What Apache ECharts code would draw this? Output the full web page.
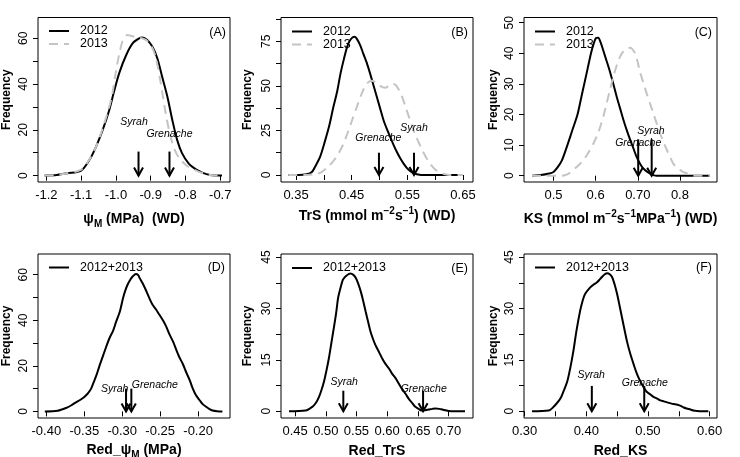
<!DOCTYPE html>
<html><head><meta charset="utf-8">
<script src="https://cdn.jsdelivr.net/npm/echarts@6/dist/echarts.min.js"></script>
<style>html,body{margin:0;padding:0;background:#fff}#c{width:740px;height:457px}</style>
</head><body><div id="c"></div>
<script>
// ---------------- DATA ----------------
// Panel A: psi_M (MPa) (WD)
const aX2012 = [-1.205,-1.17,-1.14,-1.1,-1.076,-1.057,-1.038,-1.019,-1.005,-0.99,-0.971,-0.952,-0.933,-0.924,-0.91,-0.895,-0.881,-0.867,-0.852,-0.838,-0.824,-0.81,-0.79,-0.771,-0.752,-0.729,-0.695];
const aY2012 = [0,0.3,1.0,2.2,6.9,12.7,20,28.7,37,45,52.5,57.8,60,60.4,59.3,56.3,51.3,43.2,34.5,24.4,15.6,9.8,5.1,2.8,1.3,0.3,0];
const aX2013 = [-1.205,-1.17,-1.14,-1.1,-1.076,-1.057,-1.038,-1.019,-1.01,-1.0,-0.99,-0.979,-0.967,-0.952,-0.933,-0.914,-0.9,-0.886,-0.871,-0.857,-0.843,-0.829,-0.814,-0.795,-0.771,-0.743,-0.714,-0.695];
const aY2013 = [0,0.3,1.0,2.6,7.1,12.7,20.7,30.1,36,45.4,53.4,59.6,61.4,60.9,60.4,59.3,57.1,52,40.3,27.3,17.1,10.6,6.9,4.2,2.3,0.7,0,0];
// Panel B: TrS
const bX2012 = [0.336,0.355,0.369,0.378,0.384,0.393,0.402,0.41,0.417,0.424,0.43,0.436,0.442,0.448,0.455,0.459,0.465,0.471,0.477,0.483,0.489,0.495,0.501,0.507,0.513,0.519,0.525,0.531,0.537,0.543,0.549,0.555,0.561,0.567,0.575,0.6,0.63,0.65];
const bY2012 = [0,0,0.4,1.5,4.5,10,19,28,38,47,57,65,72,76,77.5,76.5,73,68,63,57,50.5,44,37.5,31,26,21.5,17,13,9.5,6.5,4,2.2,1,0.4,0,0,0,0];
const bX2013 = [0.336,0.37,0.385,0.395,0.408,0.42,0.433,0.442,0.451,0.459,0.466,0.472,0.478,0.485,0.492,0.499,0.505,0.511,0.517,0.523,0.529,0.535,0.541,0.547,0.553,0.559,0.565,0.571,0.577,0.583,0.589,0.595,0.602,0.61,0.618,0.625,0.65];
const bY2013 = [0,0,0.5,1.5,4.7,9,16,23,31,38,44,48.5,51.5,52.8,52.3,50.5,49.3,49,50.2,51.2,50.5,47.7,43.5,38,32.5,27,22,17.8,13.8,10.3,7.3,4.7,2.6,1.3,0.4,0,0];
// Panel C: KS
const cX2012 = [0.449,0.47,0.49,0.5,0.51,0.52,0.533,0.545,0.557,0.565,0.573,0.581,0.589,0.595,0.601,0.606,0.612,0.618,0.626,0.634,0.642,0.65,0.658,0.666,0.674,0.682,0.69,0.697,0.705,0.713,0.721,0.729,0.737,0.745,0.8,0.871];
const cY2012 = [0,0.2,0.7,1.2,2.8,5,10,15,20,25,30,35,40,43,45,45.1,43.5,41,37.5,34,30,25.8,22,18.2,14.8,11.7,8.8,6.2,4,2.4,1.4,0.7,0.2,0,0,0];
const cX2013 = [0.449,0.52,0.535,0.547,0.56,0.571,0.583,0.595,0.603,0.611,0.619,0.626,0.634,0.642,0.65,0.658,0.664,0.67,0.676,0.682,0.688,0.694,0.7,0.705,0.713,0.721,0.729,0.737,0.745,0.753,0.761,0.769,0.777,0.784,0.792,0.8,0.808,0.816,0.824,0.832,0.871];
const cY2013 = [0,0,0.6,1.9,3.5,5.1,7.6,10.6,13,16,19.7,23.6,28,32.4,36,38.9,40.3,41.2,41.7,41.8,41.2,39.8,37,34,30.5,26.9,23.6,20.4,17,13.8,11,8.4,6,4,2.8,1.9,1.2,0.8,0.3,0,0];
// Panel D: Red_psi_M
const dX = [-0.402,-0.385,-0.374,-0.367,-0.361,-0.355,-0.35,-0.345,-0.341,-0.338,-0.334,-0.33,-0.325,-0.321,-0.317,-0.312,-0.308,-0.303,-0.299,-0.296,-0.293,-0.289,-0.286,-0.282,-0.279,-0.277,-0.272,-0.268,-0.264,-0.26,-0.255,-0.251,-0.246,-0.242,-0.238,-0.233,-0.229,-0.225,-0.22,-0.216,-0.211,-0.207,-0.203,-0.198,-0.194,-0.189,-0.185,-0.181,-0.175,-0.168];
const dY = [0,0.3,1.5,2.7,4,5.1,6.3,8,10,12.5,15.9,20,24.7,28.5,32,35.5,39.4,44,49.7,53,55.6,58,59.3,60.3,59.8,58.5,55.5,52.6,49.5,46.8,44.5,42.4,39.8,37.2,34,30.6,27.2,24,20.7,17.4,13.6,10,7.2,4.9,3.2,1.9,1,0.4,0.1,0];
// Panel E: Red_TrS
const eX = [0.44,0.467,0.478,0.484,0.489,0.493,0.497,0.501,0.505,0.509,0.513,0.517,0.52,0.524,0.528,0.533,0.54,0.545,0.549,0.553,0.557,0.561,0.565,0.569,0.573,0.577,0.581,0.587,0.592,0.597,0.603,0.608,0.614,0.619,0.624,0.63,0.635,0.641,0.646,0.652,0.657,0.662,0.668,0.674,0.679,0.685,0.69,0.695,0.7,0.71,0.727];
const eY = [0,0.2,1.3,2.5,4.2,6.2,8.6,11.8,15.4,19.8,24.2,28.8,33,36,38.4,39.5,40.2,39.8,38.9,37.2,35,32.2,29.1,26.1,23.2,21.1,19.3,17.2,15.4,13.9,12.5,11,9.6,8.1,6.6,5.1,3.7,2.4,1.3,0.6,0.2,0.3,0.5,0.7,0.8,0.7,0.5,0.3,0.1,0,0];
// Panel F: Red_KS
const fX = [0.312,0.339,0.347,0.352,0.358,0.363,0.369,0.374,0.379,0.384,0.39,0.394,0.398,0.406,0.412,0.417,0.421,0.425,0.43,0.434,0.438,0.442,0.446,0.45,0.454,0.458,0.462,0.466,0.471,0.477,0.482,0.488,0.493,0.498,0.504,0.509,0.515,0.52,0.526,0.531,0.537,0.542,0.546,0.55,0.554,0.558,0.563,0.569,0.574,0.579,0.585,0.598];
const fY = [0,0.2,1.3,2.3,3.7,5.8,8.6,12.6,17.5,23.4,29.3,32.2,34.2,36.1,37,37.6,38.3,39.1,40,40.3,40,39.1,37,34.2,30.8,27.3,23.8,20.4,17,13.6,11,8.6,7,5.7,4.9,4.2,3.7,3.2,2.9,2.6,2.3,2.1,2,1.8,1.5,1.1,0.8,0.5,0.2,0.1,0,0];

// Arrows (cultivar means) and their labels, in data units
const arrNames = ['Syrah','Grenache'];
const arrA = {x:[-0.935,-0.846], top:[10.5,10.5], lx:[-0.948,-0.846], ly:[23.6,18.2]};
const arrB = {x:[0.562,0.499], top:[12.5,12.5], lx:[0.562,0.498], ly:[26.5,20.6]};
const arrC = {x:[0.733,0.701], top:[11.9,11.9], lx:[0.731,0.701], ly:[14.6,10.8]};
const arrD = {x:[-0.295,-0.288], top:[10,10], lx:[-0.310,-0.257], ly:[10,11.5]};
const arrE = {x:[0.5286,0.6586], top:[6,6], lx:[0.530,0.6596], ly:[8.6,6.6]};
const arrF = {x:[0.409,0.494], top:[7.4,7.4], lx:[0.408,0.495], ly:[10.6,8.3]};

// Tick values and tick labels
const aXTicks = [-1.2,-1.1,-1.0,-0.9,-0.8,-0.7];
const aXLabels = ['-1.2','-1.1','-1.0','-0.9','-0.8','-0.7'];
const bXTicks = [0.35,0.40,0.45,0.50,0.55,0.60,0.65];
const bXLabelVals = [0.35,0.45,0.55,0.65];
const bXLabels = ['0.35','0.45','0.55','0.65'];
const cXTicks = [0.5,0.6,0.7,0.8];
const cXLabels = ['0.5','0.6','0.70','0.8'];
const dXTicks = [-0.40,-0.35,-0.30,-0.25,-0.20];
const dXLabels = ['-0.40','-0.35','-0.30','-0.25','-0.20'];
const eXTicks = [0.45,0.50,0.55,0.60,0.65,0.70];
const eXLabels = ['0.45','0.50','0.55','0.60','0.65','0.70'];
const fXTicks = [0.30,0.35,0.40,0.45,0.50,0.55,0.60];
const fXLabelVals = [0.30,0.40,0.50,0.60];
const fXLabels = ['0.30','0.40','0.50','0.60'];

const aYTicks = [0,10,20,30,40,50,60]; const aYLabels = [0,20,40,60];
const bYTicks = [0,12.5,25,37.5,50,62.5,75,87.5]; const bYLabels = [0,25,50,75];
const cYTicks = [0,10,20,30,40,50]; const cYLabels = [0,10,20,30,40,50];
const dYTicks = [0,10,20,30,40,50,60]; const dYLabels = [0,20,40,60];
const eYTicks = [0,7.5,15,22.5,30,37.5,45]; const eYLabels = [0,15,30,45];
const fYTicks = [0,7.5,15,22.5,30,37.5,45]; const fYLabels = [0,15,30,45];

const panelLetters = ['(A)','(B)','(C)','(D)','(E)','(F)'];

// ---------------- CHART ----------------
const FF = 'Liberation Sans, Arial, Helvetica, sans-serif';
const zip = (xs, ys) => xs.map((x, i) => [x, ys[i]]);

const grids = [
  {left:38, top:17.5, width:192, height:164.5},
  {left:281, top:17.5, width:192, height:164.5},
  {left:524, top:17.5, width:193, height:164.5},
  {left:38, top:254, width:192, height:164},
  {left:281, top:254, width:192, height:164},
  {left:524, top:254, width:193, height:164}
].map(g => Object.assign(g, {show:true, borderColor:'#000', borderWidth:1, containLabel:false, outerBoundsMode:'none'}));

const titleRich = {
  b:{fontFamily:FF, fontWeight:'bold', fontSize:14, lineHeight:20, color:'#000'},
  sub:{fontFamily:FF, fontWeight:'bold', fontSize:10, lineHeight:20, verticalAlign:'bottom', color:'#000'},
  sup:{fontFamily:FF, fontWeight:'bold', fontSize:10, lineHeight:20, verticalAlign:'top', color:'#000'}
};

function lookupLabel(vals, texts) {
  return function (v) {
    let best = 0, bd = Infinity;
    vals.forEach((t, i) => { const d = Math.abs(t - v); if (d < bd) { bd = d; best = i; } });
    return texts[best];
  };
}

function xAxis(i, min, max, ticks, labelVals, labelTexts, name, gap) {
  return {
    type:'value', gridIndex:i, min:min, max:max,
    axisLine:{show:false}, splitLine:{show:false},
    axisTick:{show:true, length:5, lineStyle:{color:'#000', width:1}, customValues:ticks},
    axisLabel:{customValues:labelVals, formatter:lookupLabel(labelVals, labelTexts), margin:7, color:'#000', fontSize:13, fontFamily:FF},
    name:name, nameLocation:'middle', nameGap:gap, nameTextStyle:{rich:titleRich}
  };
}
function yAxis(i, min, max, ticks, labels, gap) {
  return {
    type:'value', gridIndex:i, min:min, max:max,
    axisLine:{show:false}, splitLine:{show:false},
    axisTick:{show:true, length:5, lineStyle:{color:'#000', width:1}, customValues:ticks},
    axisLabel:{customValues:labels, rotate:90, margin:8, color:'#000', fontSize:12, fontFamily:FF, formatter: v => String(v)},
    name:'Frequency', nameLocation:'middle', nameGap:gap,
    nameTextStyle:{fontFamily:FF, fontWeight:'bold', fontSize:12, color:'#000'}
  };
}

const xAxes = [
  xAxis(0, -1.224, -0.672, aXTicks, aXTicks, aXLabels, '{b|ψ}{sub|M}{b| (MPa)  (WD)}', 27),
  xAxis(1, 0.323, 0.668, bXTicks, bXLabelVals, bXLabels, '{b|TrS (mmol m}{sup|−2}{b|s}{sup|−1}{b|) (WD)}', 24),
  xAxis(2, 0.430, 0.888, cXTicks, cXTicks, cXLabels, '{b|KS (mmol m}{sup|−2}{b|s}{sup|−1}{b|MPa}{sup|−1}{b|) (WD)}', 27),
  xAxis(3, -0.411, -0.158, dXTicks, dXTicks, dXLabels, '{b|Red_ψ}{sub|M}{b| (MPa)}', 22),
  xAxis(4, 0.427, 0.740, eXTicks, eXTicks, eXLabels, '{b|Red_TrS}', 23),
  xAxis(5, 0.299, 0.612, fXTicks, fXLabelVals, fXLabels, '{b|Red_KS}', 23)
];
const yAxes = [
  yAxis(0, -2.8, 69.1, aYTicks, aYLabels, 25),
  yAxis(1, -3.93, 88.35, bYTicks, bYLabels, 27),
  yAxis(2, -2.06, 51.7, cYTicks, cYLabels, 24),
  yAxis(3, -2.9, 69.1, dYTicks, dYLabels, 25),
  yAxis(4, -1.96, 45.9, eYTicks, eYLabels, 27),
  yAxis(5, -1.96, 45.9, fYTicks, fYLabels, 24)
];

function curve(i, name, data, dashed) {
  return {
    type:'line', name:name, xAxisIndex:i, yAxisIndex:i, data:data,
    smooth:0.3, showSymbol:false, symbol:'none', silent:true, animation:false, z: dashed ? 3 : 2,
    lineStyle: dashed ? {color:'#c4c4c4', width:2, type:[9,6]} : {color:'#000', width:2}
  };
}

function arrows(i, a) {
  const data = a.x.map((x, k) => [x, a.top[k], a.lx[k], a.ly[k]]);
  return {
    type:'custom', xAxisIndex:i, yAxisIndex:i, data:data, silent:true, animation:false, z:5, clip:false,
    renderItem: function (params, api) {
      const p0 = api.coord([api.value(0), api.value(1)]);
      const p1 = api.coord([api.value(0), 0]);
      const lp = api.coord([api.value(2), api.value(3)]);
      return {type:'group', children:[
        {type:'line', shape:{x1:p0[0], y1:p0[1], x2:p1[0], y2:p1[1]}, style:{stroke:'#000', lineWidth:2}},
        {type:'polyline', shape:{points:[[p1[0]-4.5, p1[1]-8], [p1[0], p1[1]], [p1[0]+4.5, p1[1]-8]]}, style:{stroke:'#000', lineWidth:2, fill:null}},
        {type:'text', x:lp[0], y:lp[1], style:{text:arrNames[params.dataIndex], fontFamily:FF, fontStyle:'italic', fontSize:10.5, fill:'#000', align:'center', verticalAlign:'middle'}}
      ]};
    }
  };
}

const legendBase = {
  orient:'vertical', itemWidth:20, itemHeight:14, itemGap:0, padding:0,
  textStyle:{fontFamily:FF, fontSize:12.5, color:'#000', padding:[0,0,0,6]},
  itemStyle:{opacity:0}, selectedMode:false
};
const legends = [
  Object.assign({}, legendBase, {data:['2012','2013'], left:48, top:24.5}),
  Object.assign({}, legendBase, {data:['2012','2013'], left:291, top:25}),
  Object.assign({}, legendBase, {data:['2012','2013'], left:534, top:25}),
  Object.assign({}, legendBase, {data:['2012+2013'], left:48, top:261}),
  Object.assign({}, legendBase, {data:['2012+2013'], left:291, top:261.5}),
  Object.assign({}, legendBase, {data:['2012+2013'], left:534, top:261})
];

const letterPos = [[226,33],[468,33],[712,33],[225,268],[468,268.5],[712,268]];
const graphics = panelLetters.map((t, k) => ({
  type:'text', x:letterPos[k][0], y:letterPos[k][1], silent:true,
  style:{text:t, fontFamily:FF, fontSize:12.5, fill:'#000', align:'right', verticalAlign:'middle'}
}));

const series = [
  curve(0, '2012', zip(aX2012, aY2012), false), curve(0, '2013', zip(aX2013, aY2013), true),
  curve(1, '2012', zip(bX2012, bY2012), false), curve(1, '2013', zip(bX2013, bY2013), true),
  curve(2, '2012', zip(cX2012, cY2012), false), curve(2, '2013', zip(cX2013, cY2013), true),
  curve(3, '2012+2013', zip(dX, dY), false),
  curve(4, '2012+2013', zip(eX, eY), false),
  curve(5, '2012+2013', zip(fX, fY), false),
  arrows(0, arrA), arrows(1, arrB), arrows(2, arrC), arrows(3, arrD), arrows(4, arrE), arrows(5, arrF)
];

const chart = echarts.init(document.getElementById('c'), null, {renderer:'canvas'});
chart.setOption({
  animation:false, backgroundColor:'#fff',
  grid:grids, xAxis:xAxes, yAxis:yAxes, legend:legends, series:series, graphic:graphics
});
</script>
</body></html>
